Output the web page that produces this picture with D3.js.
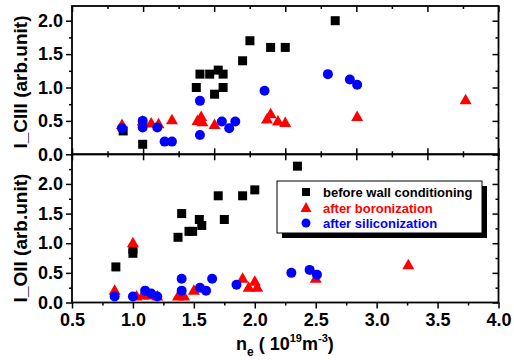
<!DOCTYPE html>
<html>
<head>
<meta charset="utf-8">
<script src="https://cdn.jsdelivr.net/npm/d3@7"></script>
<style>
  body { margin: 0; background: #fff; }
  svg { font-family: "Liberation Sans", Arial, sans-serif; font-weight: bold; }
</style>
</head>
<body>
<div id="chart"></div>
<script>
// --- data (x = n_e in 1e19 m^-3) ---
const cIIIBefore = [[0.92,0.35],[1.08,0.15],[1.52,1.0],[1.55,1.2],[1.63,1.2],[1.70,1.26],[1.74,1.2],
                    [1.67,0.9],[1.74,1.0],[1.90,1.4],[1.96,1.7],[2.13,1.6],[2.25,1.6],[2.66,2.0]];
const cIIIBoron  = [[0.91,0.44],[1.08,0.49],[1.15,0.46],[1.21,0.45],[1.32,0.51],[1.53,0.5],[1.56,0.56],
                    [1.57,0.48],[1.67,0.44],[2.10,0.52],[2.13,0.6],[2.19,0.49],[2.25,0.47],[2.84,0.56],[3.73,0.81]];
const cIIISilic  = [[0.91,0.39],[1.08,0.50],[1.08,0.40],[1.20,0.40],[1.26,0.19],[1.32,0.19],[1.55,0.80],
                    [1.55,0.29],[1.73,0.49],[1.79,0.39],[1.84,0.49],[2.08,0.95],[2.60,1.20],[2.78,1.12],[2.84,1.04]];

const oIIBefore = [[0.86,0.6],[1.0,0.9],[1.0,0.83],[1.37,1.1],[1.40,1.5],[1.46,1.2],[1.49,1.2],
                   [1.545,1.4],[1.565,1.3],[1.70,1.8],[1.75,1.4],[1.90,1.8],[2.0,1.9],[2.35,2.3]];
const oIIBoron  = [[0.85,0.2],[1.0,1.0],[1.03,0.1],[1.08,0.12],[1.13,0.12],[1.20,0.1],[1.37,0.1],[1.42,0.1],
                   [1.50,0.2],[1.90,0.4],[1.95,0.25],[2.0,0.35],[2.02,0.25],[2.50,0.4],[3.26,0.63]];
const oIISilic  = [[0.85,0.1],[1.0,0.1],[1.10,0.2],[1.15,0.15],[1.20,0.1],[1.40,0.4],[1.40,0.2],
                   [1.55,0.25],[1.60,0.2],[1.65,0.4],[1.85,0.3],[2.30,0.5],[2.45,0.55],[2.51,0.47]];

const xTicks = [0.5, 1.0, 1.5, 2.0, 2.5, 3.0, 3.5, 4.0];
const yTicks = [0.0, 0.5, 1.0, 1.5, 2.0];
const legendLabels = ["before wall conditioning", "after boronization", "after siliconization"];
const seriesColors = ["#000000", "#ff0000", "#0000ff"];

const W = 514, H = 360;
const L = 72, R = 498.5, T = 6, MID = 154.3, B = 302.5;

const svg = d3.select("#chart").append("svg").attr("width", W).attr("height", H);

const x = d3.scaleLinear().domain([0.5, 4.0]).range([L, R]);
// odd mirrored axis between/above panels: 12 equal steps
const xAlt = d3.scaleLinear().domain([0, 12]).range([L, R]);
const yTop = d3.scaleLinear().domain([0, 2.22]).range([MID, T]);
const yBot = d3.scaleLinear().domain([0, 2.5]).range([B, MID]);

const minor = (ticks) => d3.range(0, ticks.length - 1).map(i => (ticks[i] + ticks[i + 1]) / 2);
const stripDomain = g => g.select(".domain").remove();

function panel(y, yMax, rows, title, titleY) {
    const g = svg.append("g");
    const yMinor = minor(yTicks).concat([2.25]).filter(v => v <= yMax);

    // left axis, ticks out
    g.append("g").attr("transform", `translate(${L},0)`)
        .call(d3.axisLeft(y).tickValues(yTicks).tickSize(6).tickPadding(3).tickFormat(d3.format(".1f")))
        .call(stripDomain)
        .call(a => a.selectAll("text").attr("font-size", 18).attr("font-family", null).attr("fill", "#000"));
    g.append("g").attr("transform", `translate(${L},0)`)
        .call(d3.axisLeft(y).tickValues(yMinor).tickSize(3).tickFormat(""))
        .call(stripDomain);

    // right axis, ticks in
    g.append("g").attr("transform", `translate(${R},0)`)
        .call(d3.axisLeft(y).tickValues(yTicks.concat(yMax >= 2.5 ? [2.5] : [])).tickSize(6).tickFormat(""))
        .call(stripDomain);
    g.append("g").attr("transform", `translate(${R},0)`)
        .call(d3.axisLeft(y).tickValues(yMinor).tickSize(3).tickFormat(""))
        .call(stripDomain);

    g.selectAll(".tick line").attr("stroke", "#000").attr("stroke-width", 1.5);

    // frame
    g.append("rect")
        .attr("x", L).attr("y", y(yMax))
        .attr("width", R - L).attr("height", y(0) - y(yMax))
        .attr("fill", "none").attr("stroke", "#000").attr("stroke-width", 1.8);

    // marks: black squares, red triangles, blue circles
    const [sq, tri, circ] = rows;
    g.selectAll(".sq").data(sq).enter().append("rect")
        .attr("x", d => x(d[0]) - 4.5).attr("y", d => y(d[1]) - 4.5)
        .attr("width", 9).attr("height", 9).attr("fill", seriesColors[0]);
    g.selectAll(".tri").data(tri).enter().append("path")
        .attr("transform", d => `translate(${x(d[0])},${y(d[1])})`)
        .attr("d", "M0,-6.5L6,4L-6,4Z").attr("fill", seriesColors[1]);
    g.selectAll(".circ").data(circ).enter().append("circle")
        .attr("cx", d => x(d[0])).attr("cy", d => y(d[1]))
        .attr("r", 5).attr("fill", seriesColors[2]);

    svg.append("text")
        .attr("transform", `translate(27,${titleY}) rotate(-90)`)
        .attr("text-anchor", "middle").attr("font-size", 19)
        .text(title);
}

panel(yTop, 2.22, [cIIIBefore, cIIIBoron, cIIISilic], "I_CIII (arb.unit)", 82);
panel(yBot, 2.5, [oIIBefore, oIIBoron, oIISilic], "I_OII (arb.unit)", 238);

// bottom x axis, ticks out
const xAxisG = svg.append("g").attr("transform", `translate(0,${B})`);
xAxisG.call(d3.axisBottom(x).tickValues(xTicks).tickSize(6).tickPadding(5).tickFormat(d3.format(".1f")))
    .call(stripDomain)
    .call(a => a.selectAll("text").attr("font-size", 18).attr("font-family", null).attr("fill", "#000"));
xAxisG.append("g").call(d3.axisBottom(x).tickValues(minor(xTicks)).tickSize(3).tickFormat("")).call(stripDomain);

// mirrored axes with the 12-step spacing
const altMajor = d3.range(0, 13, 2), altMinor = d3.range(1, 12, 2);
function altAxis(yPos, make) {
    const g = svg.append("g").attr("transform", `translate(0,${yPos})`);
    g.append("g").call(make(xAlt).tickValues(altMajor).tickSize(6).tickFormat("")).call(stripDomain);
    g.append("g").call(make(xAlt).tickValues(altMinor).tickSize(3).tickFormat("")).call(stripDomain);
}
altAxis(T, d3.axisBottom);
altAxis(MID, d3.axisTop);
altAxis(MID, d3.axisBottom);
svg.selectAll(".tick line").attr("stroke", "#000").attr("stroke-width", 1.5);

// x title
const xt = svg.append("text").attr("x", 236).attr("y", 350).attr("font-size", 18);
xt.append("tspan").text("n");
xt.append("tspan").attr("font-size", 12).attr("dy", 6).text("e");
xt.append("tspan").attr("dy", -6).text(" ( 10");
xt.append("tspan").attr("font-size", 11).attr("dy", -8).text("19");
xt.append("tspan").attr("dy", 8).text("m");
xt.append("tspan").attr("font-size", 11).attr("dy", -8).text("-3");
xt.append("tspan").attr("dy", 8).text(")");

// legend
const lg = svg.append("g").attr("transform", "translate(277,181)");
lg.append("rect").attr("x", 5).attr("y", 5).attr("width", 205).attr("height", 52).attr("fill", "#000");
lg.append("rect").attr("width", 205).attr("height", 52).attr("fill", "#fff").attr("stroke", "#000").attr("stroke-width", 1);
const rowsY = [11, 27, 42];
lg.append("rect").attr("x", 25).attr("y", rowsY[0] - 4).attr("width", 8).attr("height", 8).attr("fill", seriesColors[0]);
lg.append("path").attr("transform", `translate(29,${rowsY[1]})`).attr("d", "M0,-6L5.5,4L-5.5,4Z").attr("fill", seriesColors[1]);
lg.append("circle").attr("cx", 29).attr("cy", rowsY[2]).attr("r", 4.5).attr("fill", seriesColors[2]);
lg.selectAll(".lt").data(legendLabels).enter().append("text")
    .attr("x", 46).attr("y", (d, i) => rowsY[i] + 5)
    .attr("font-size", 13).attr("fill", (d, i) => seriesColors[i])
    .text(d => d);
</script>
</body>
</html>
